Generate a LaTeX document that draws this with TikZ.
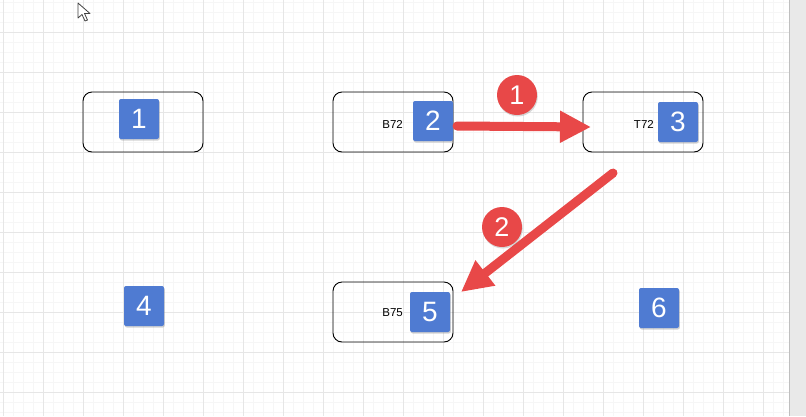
\documentclass[tikz,border=0pt]{standalone}
\usepackage{fontspec}
\setmainfont{Liberation Sans}
\usetikzlibrary{arrows.meta,shadows}
\definecolor{badgeblue}{HTML}{4F7BD2}
\definecolor{markred}{HTML}{E84848}
\definecolor{gridmajor}{HTML}{E6E6E6}
\definecolor{gridminor}{HTML}{F6F6F6}
\definecolor{panelgray}{HTML}{E9E9E9}

\begin{document}
\begin{tikzpicture}[x=1pt,y=-1pt,
    cell/.style={draw=black, line width=0.9pt, rounded corners=9pt,
      minimum width=120pt, minimum height=60pt, inner sep=0pt},
    badge/.style={fill=badgeblue, text=white, rounded corners=2pt,
      minimum size=40pt, inner sep=0pt, font=\fontsize{28}{28}\selectfont,
      drop shadow={opacity=0.35, shadow xshift=0.8pt, shadow yshift=-1.5pt}},
    stepmark/.style={circle, fill=markred, text=white, minimum size=40pt,
      inner sep=0pt, font=\fontsize{27}{27}\selectfont,
      drop shadow={opacity=0.3, shadow xshift=0.8pt, shadow yshift=-1.5pt}},
    tag/.style={anchor=east, inner sep=0pt, font=\fontsize{11.5}{11.5}\selectfont},
    callout/.style={draw=markred, line width=9pt, line cap=round,
      -{Triangle[length=31pt,width=30pt]}}]
  \useasboundingbox (0,0) rectangle (806,416);
  \fill[white] (0,0) rectangle (806,416);

  % Grid
  \foreach \x in {3,13,...,783} \draw[gridminor] (\x,0) -- (\x,416);
  \foreach \y in {2,12,...,412} \draw[gridminor] (0,\y) -- (789,\y);
  \foreach \x in {3,43,...,783} \draw[gridmajor] (\x,0) -- (\x,416);
  \foreach \y in {32,72,...,392} \draw[gridmajor] (0,\y) -- (789,\y);
  \fill[panelgray] (789,0) rectangle (806,416);
  \draw[black!25] (789,0) -- (789,416);

  % Mouse pointer
  \draw[fill=white, draw=black!75, line width=0.8pt, line join=round]
    (78,3) -- (78,18) -- (82,14.5) -- (85,21) -- (87.5,20) -- (84.5,13.5) -- (90,13.5) -- cycle;

  % Boxes
  \node[cell] (box1) at (143,122) {};
  \node[cell] (box2) at (393,122) {};
  \node[cell] (box3) at (643,122) {};
  \node[cell] (box5) at (393,312) {};

  % Texts in boxes
  \node[tag] (lblB72) at (403,124) {B72};
  \node[tag] (lblT72) at (654,124) {T72};
  \node[tag] (lblB75) at (403,313) {B75};

  % Numbered badges
  \node[badge] (n1) at (139,119) {1};
  \node[badge] (n2) at (433,121) {2};
  \node[badge] (n3) at (678,122) {3};
  \node[badge] (n4) at (144,306) {4};
  \node[badge] (n5) at (430,312) {5};
  \node[badge] (n6) at (659,308) {6};

  % Arrows
  \coordinate (a1s) at (457,126);
  \coordinate (a1e) at (591,127);
  \coordinate (a2s) at (613,173);
  \coordinate (a2e) at (461,292);
  \draw[callout] (a1s) -- (a1e);
  \draw[callout] (a2s) -- (a2e);

  % Step markers
  \node[stepmark] (m1) at (517,95) {1};
  \node[stepmark] (m2) at (502,227) {2};
\end{tikzpicture}
\end{document}
